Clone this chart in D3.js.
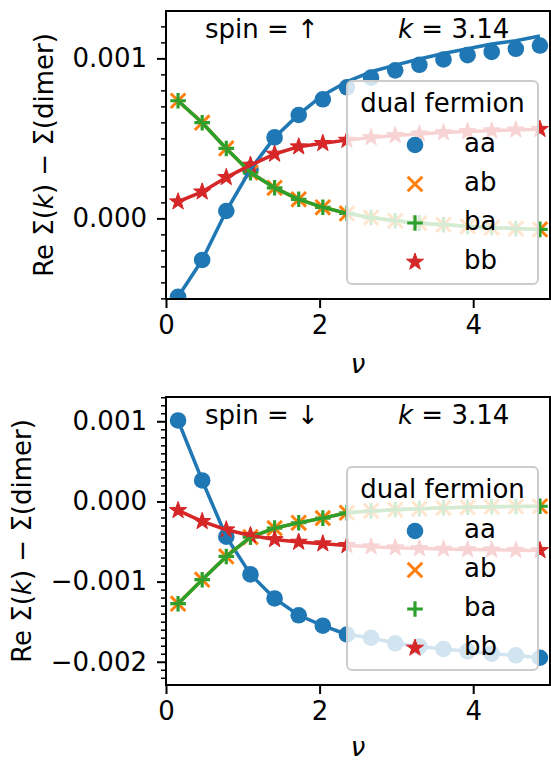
<!DOCTYPE html>
<html>
<head>
<meta charset="utf-8">
<script src="https://cdn.jsdelivr.net/npm/d3@7"></script>
<style>
  body { margin: 0; background: #fff; }
  svg { display: block; font-family: "DejaVu Sans", sans-serif; }
</style>
</head>
<body>
<svg id="chart" width="551" height="762"></svg>
<script>
// Matsubara frequencies (beta = 20)
const nu = [0.157, 0.471, 0.785, 1.100, 1.414, 1.728, 2.042, 2.356,
            2.670, 2.985, 3.299, 3.613, 3.927, 4.241, 4.555, 4.869];

const series = ["aa", "ab", "ba", "bb"];

// spin up, dual fermion markers
const upAA = [-0.00049, -0.00026, 0.000046, 0.000306, 0.000506, 0.000646, 0.000744, 0.000819,
              0.000880, 0.000925, 0.000960, 0.000993, 0.00102, 0.00104, 0.00106, 0.00108];
const upAB = [0.000735, 0.000598, 0.000437, 0.000286, 0.000191, 0.000119, 0.000069, 0.000031,
              0.000005, -0.000015, -0.000030, -0.000040, -0.000050, -0.000058, -0.000064, -0.000069];
const upBA = upAB.slice();
const upBB = [0.000104, 0.000166, 0.000256, 0.000333, 0.000402, 0.000448, 0.000469, 0.000489,
              0.000505, 0.000518, 0.000528, 0.000536, 0.000543, 0.000548, 0.000553, 0.000557];
// spin up, reference lines
const upLineAA = [-0.00049, -0.00026, 0.000046, 0.000306, 0.000506, 0.000650, 0.000770, 0.000854,
                  0.000916, 0.000958, 0.000996, 0.00103, 0.00106, 0.00109, 0.00111, 0.00114];

// spin down, dual fermion markers
const dnAA = [0.00101, 0.000262, -0.00044, -0.00091, -0.00121, -0.00142, -0.00155, -0.00166,
              -0.00170, -0.00177, -0.00181, -0.00184, -0.00187, -0.00190, -0.00192, -0.00195];
const dnAB = [-0.001276, -0.000976, -0.000686, -0.000445, -0.000333, -0.000266, -0.000208, -0.000141,
              -0.000118, -0.000103, -0.000090, -0.000080, -0.000073, -0.000067, -0.000063, -0.000060];
const dnBA = dnAB.slice();
const dnBB = [-0.000112, -0.000249, -0.000353, -0.000424, -0.000474, -0.000507, -0.000527, -0.000549,
              -0.000565, -0.000578, -0.000587, -0.000594, -0.000600, -0.000604, -0.000608, -0.000611];

const xTicks = [0, 2, 4];
const upYTicks = [0, 0.001];
const dnYTicks = [-0.002, -0.001, 0, 0.001];

const colors = {aa: "#1f77b4", ab: "#ff7f0e", ba: "#2ca02c", bb: "#d62728"};
const fs = 26;

const svg = d3.select("#chart");

function minorTicks(lo, hi) {
    let out = [];
    for (let i = Math.ceil(lo * 10000 - 1e-6); i <= Math.floor(hi * 10000 + 1e-6); i++) {
        if (i % 10 != 0) out.push(i / 10000);
    }
    return out;
}

function fmt(v) {
    return d3.format(".3f")(v).replace("-", "\u2212");
}

function drawMarker(g, kind, cx, cy) {
    let c = colors[kind];
    if (kind == "aa") {
        g.append("circle").attr("cx", cx).attr("cy", cy).attr("r", 8.3).attr("fill", c);
    } else if (kind == "ab") {
        g.append("path")
            .attr("d", `M${cx-7.3},${cy-7.3}L${cx+7.3},${cy+7.3}M${cx-7.3},${cy+7.3}L${cx+7.3},${cy-7.3}`)
            .attr("stroke", c).attr("stroke-width", 3).attr("fill", "none");
    } else if (kind == "ba") {
        g.append("path")
            .attr("d", `M${cx-7.8},${cy}L${cx+7.8},${cy}M${cx},${cy-7.8}L${cx},${cy+7.8}`)
            .attr("stroke", c).attr("stroke-width", 3.2).attr("fill", "none");
    } else {
        let pts = [];
        for (let i = 0; i < 10; i++) {
            let r = i % 2 == 0 ? 9 : 3.6;
            let a = -Math.PI / 2 + i * Math.PI / 5;
            pts.push([cx + r * Math.cos(a), cy + r * Math.sin(a)]);
        }
        g.append("path").attr("d", "M" + pts.join("L") + "Z")
            .attr("fill", c).attr("stroke", c).attr("stroke-width", 1);
    }
}

function drawPanel(p) {
    let x = d3.scaleLinear().domain([0, 5]).range([166, 550]);
    let y = d3.scaleLinear().domain(p.ydom).range([p.bottom, p.top]);
    let g = svg.append("g");

    g.append("clipPath").attr("id", p.id)
        .append("rect").attr("x", 166).attr("y", p.top)
        .attr("width", 384).attr("height", p.bottom - p.top);

    // minor ticks
    let minor = g.append("g").attr("transform", "translate(166,0)")
        .call(d3.axisLeft(y).tickValues(minorTicks(p.ydom[0], p.ydom[1])).tickSize(5).tickFormat(""));
    minor.selectAll("line").attr("stroke-width", 1.5);

    let yAxis = g.append("g").attr("transform", "translate(166,0)")
        .call(d3.axisLeft(y).tickValues(p.yticks).tickSize(9).tickPadding(10).tickFormat(fmt));
    yAxis.selectAll("line").attr("stroke-width", 2);
    yAxis.selectAll("text").attr("font-size", fs).attr("font-family", "DejaVu Sans");

    let xAxis = g.append("g").attr("transform", `translate(0,${p.bottom})`)
        .call(d3.axisBottom(x).tickValues(xTicks).tickSize(9).tickPadding(8).tickFormat(d3.format("d")));
    xAxis.selectAll("line").attr("stroke-width", 2);
    xAxis.selectAll("text").attr("font-size", fs).attr("font-family", "DejaVu Sans");
    g.selectAll(".domain").remove();

    let plot = g.append("g").attr("clip-path", `url(#${p.id})`);
    let markerSets = {aa: p.aa, ab: p.ab, ba: p.ba, bb: p.bb};
    series.forEach(function (s) {
        markerSets[s].forEach(function (v, i) {
            drawMarker(plot, s, x(nu[i]), y(v));
        });
    });
    let lineGen = d3.line().x((d, i) => x(nu[i])).y(d => y(d));
    let lineSets = {aa: p.lineAA, ab: p.ab, ba: p.ba, bb: p.bb};
    series.forEach(function (s) {
        plot.append("path").attr("d", lineGen(lineSets[s]))
            .attr("fill", "none").attr("stroke", colors[s]).attr("stroke-width", 3.5)
            .attr("stroke-linejoin", "round").attr("stroke-linecap", "butt");
    });

    // frame
    g.append("rect").attr("x", 166).attr("y", p.top)
        .attr("width", 384).attr("height", p.bottom - p.top)
        .attr("fill", "none").attr("stroke", "black").attr("stroke-width", 2);

    // annotations
    g.append("text").attr("x", 205).attr("y", p.top + 27)
        .attr("font-size", fs).text("spin = " + p.arrow);
    let kt = g.append("text").attr("x", 398).attr("y", p.top + 27).attr("font-size", fs);
    kt.append("tspan").attr("font-style", "italic").text("k");
    kt.append("tspan").text(" = 3.14");

    // legend
    let lt = p.top + 70;
    let leg = g.append("g");
    leg.append("rect").attr("x", 347).attr("y", lt).attr("width", 191).attr("height", 203)
        .attr("rx", 5).attr("fill", "white").attr("fill-opacity", 0.8)
        .attr("stroke", "#cccccc").attr("stroke-width", 2);
    leg.append("text").attr("x", 442.5).attr("y", lt + 31).attr("text-anchor", "middle")
        .attr("font-size", fs).text("dual fermion");
    series.forEach(function (s, i) {
        let cy = lt + 64 + i * 39;
        drawMarker(leg, s, 415, cy);
        leg.append("text").attr("x", 464).attr("y", cy + 7).attr("font-size", fs).text(s);
    });

    // axis labels
    g.append("text").attr("x", 358).attr("y", p.bottom + p.xlabelDy).attr("text-anchor", "middle")
        .attr("font-size", fs).attr("font-style", "italic").text("\u03bd");
    let yl = g.append("text")
        .attr("transform", `translate(${p.ylabelX},${(p.top + p.bottom) / 2}) rotate(-90)`)
        .attr("text-anchor", "middle").attr("dominant-baseline", "central").attr("font-size", fs);
    yl.append("tspan").text("Re \u03a3(");
    yl.append("tspan").attr("font-style", "italic").text("k");
    yl.append("tspan").text(") \u2212 \u03a3(dimer)");
}

drawPanel({id: "clipUp", top: 11, bottom: 299, ydom: [-0.000504, 0.001296], yticks: upYTicks,
           aa: upAA, ab: upAB, ba: upBA, bb: upBB, lineAA: upLineAA, arrow: "\u2191",
           ylabelX: 44, xlabelDy: 74});
drawPanel({id: "clipDn", top: 397, bottom: 685, ydom: [-0.00229, 0.001303], yticks: dnYTicks,
           aa: dnAA, ab: dnAB, ba: dnBA, bb: dnBB, lineAA: dnAA, arrow: "\u2193",
           ylabelX: 22, xlabelDy: 71});
</script>
</body>
</html>
